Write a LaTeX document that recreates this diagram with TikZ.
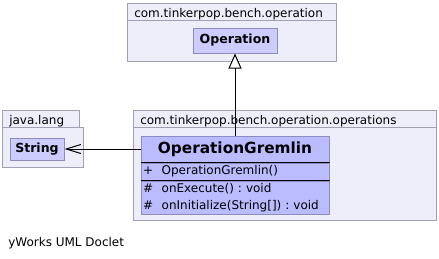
\documentclass[tikz,border=0pt]{standalone}
\usepackage{fontspec}
\setmainfont{DejaVu Sans}
\usetikzlibrary{arrows.meta,positioning}
\definecolor{pkgfill}{RGB}{238,238,250}
\definecolor{pkgline}{RGB}{160,160,180}
\definecolor{clsfill}{RGB}{204,204,255}
\definecolor{clsline}{RGB}{140,140,190}
\definecolor{mainfill}{RGB}{187,187,255}
\newcommand{\vis}[1]{\makebox[14pt][l]{#1}}
\frenchspacing

\begin{document}
\begin{tikzpicture}[x=0.75pt,y=-0.75pt,
  pkg/.style={draw=pkgline,fill=pkgfill,line width=0.75pt},
  pkgname/.style={anchor=base west,inner sep=0pt,font=\fontsize{9}{11}\selectfont},
  cls/.style={draw=clsline,fill=clsfill,line width=0.75pt,inner sep=0pt,font=\fontsize{9.4}{11}\selectfont\bfseries},
  part/.style={draw=clsline,fill=mainfill,line width=0.75pt,minimum width=141pt,
    inner xsep=1.5pt,inner ysep=0pt,text width=138pt,align=left,font=\fontsize{9}{12.75}\selectfont},
  gen/.style={-{Triangle[length=11.25pt,width=9.75pt,fill=white]},line width=0.75pt},
  dep/.style={-{Straight Barb[length=11pt,width=6.75pt]},line width=0.75pt}]
\useasboundingbox (0,0) rectangle (439,258);
% packages
\draw[pkg] (127,20) rectangle (336,61);
\draw[pkg] (127,3) rectangle (336,20);
\node[pkgname] (pkgbench) at (134,17) {com.tinkerpop.bench.operation};
\draw[pkg] (2,127) rectangle (83,167);
\draw[pkg] (2,110) rectangle (79,127);
\node[pkgname] (pkglang) at (9,124) {java.lang};
\draw[pkg] (133,127) rectangle (436,220);
\draw[pkg] (133,110) rectangle (436,127);
\node[pkgname] (pkgops) at (140,124) {com.tinkerpop.bench.operation.operations};
% classes
\node[cls,minimum width=63pt,minimum height=18.75pt] (op) at (235,40.5) {Operation};
\node[cls,minimum width=40.5pt,minimum height=16.5pt] (str) at (37,149) {String};
\node[part,minimum height=19.5pt,align=center,font=\fontsize{11.5}{13}\selectfont\bfseries] (gremlin) at (235,149) {OperationGremlin};
\node[part,minimum height=12.75pt,below=0pt of gremlin] (ctor) {\vis{+}OperationGremlin()};
\node[part,minimum height=24.75pt,below=0pt of ctor] (ops) {\vis{\#}onExecute() : void\\\vis{\#}onInitialize(String[]) : void};
\draw[line width=0.75pt] (ctor.north west) -- (ctor.north east);
\draw[line width=0.75pt] (ops.north west) -- (ops.north east);
% relations
\draw[gen] (gremlin) -- (op);
\draw[dep] (gremlin) -- (str);
\node[pkgname] (doclet) at (8,246) {yWorks UML Doclet};
\end{tikzpicture}
\end{document}
